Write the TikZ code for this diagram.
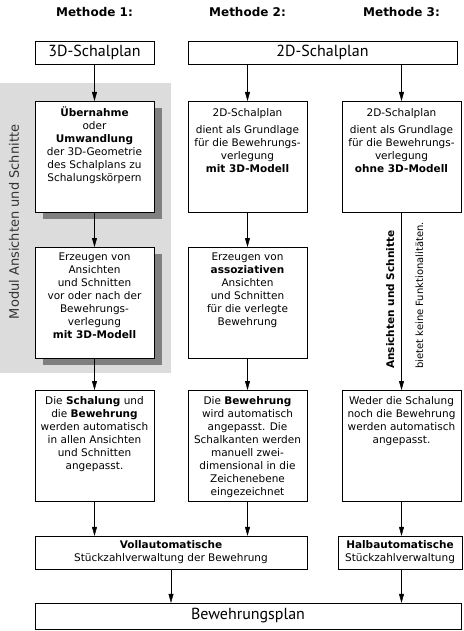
\documentclass[tikz,border=0pt]{standalone}
\usepackage{fontspec}
\setmainfont{DejaVu Sans}
\newfontfamily\headfont{PT Sans}
\usepackage{tikz}
\usetikzlibrary{arrows.meta, positioning, shadows}
\definecolor{modgray}{HTML}{DCDCDC}
\definecolor{shadgray}{HTML}{808080}
\definecolor{modtext}{HTML}{333333}

\begin{document}
\begin{tikzpicture}[x=1pt, y=-1pt,
  every node/.style={inner sep=0pt},
  titletext/.style={font=\bfseries\fontsize{12}{14}\selectfont},
  headbox/.style={draw, fill=white, minimum height=23pt, font=\headfont\fontsize{16}{18}\selectfont},
  stepbox/.style={draw, fill=white, minimum width=119pt, minimum height=111pt, anchor=north},
  shadebox/.style={stepbox, drop shadow={shadow xshift=8pt, shadow yshift=-7pt, fill=shadgray, opacity=1}},
  boxtext/.style={align=center, font=\fontsize{10.5}{13}\selectfont, anchor=north},
  sidetext/.style={rotate=90, anchor=base west, font=\fontsize{10}{12}\selectfont},
  flow/.style={-{Triangle[length=9pt, width=5pt]}}]
  \useasboundingbox (0,0) rectangle (463,631);
  % module background
  \fill[modgray] (0,83) rectangle (171,373);
  \node[rotate=90, text=modtext, font=\fontsize{13}{15}\selectfont] (modlbl) at (14,222) {Modul Ansichten und Schnitte};
  % titles
  \foreach \i/\x in {1/94.5,2/247.5,3/401.5}
    \node[titletext] (meth\i) at (\x,12) {Methode \i:};
  % plans on top
  \node[headbox, minimum width=119pt] (s3d) at (94.5,52.5) {3D-Schalplan};
  \node[headbox, minimum width=269pt] (s2d) at (322.5,52.5) {2D-Schalplan};
  % second row
  \node[shadebox] (uebern) at (94.5,101) {};
  \node[boxtext, below=6pt of uebern.north] (uebern-t) {\textbf{Übernahme}\\oder\\\textbf{Umwandlung}\\der 3D-Geometrie\\des Schalplans zu\\Schalungskörpern};
  \node[stepbox] (grund2) at (247.5,101) {};
  \node[boxtext, below=7pt of grund2.north] (grund2-t) {2D-Schalplan\\[4pt]dient als Grundlage\\für die Bewehrungs-\\verlegung\\\textbf{mit 3D-Modell}};
  \node[stepbox] (grund3) at (401.5,101) {};
  \node[boxtext, below=7pt of grund3.north] (grund3-t) {2D-Schalplan\\[4pt]dient als Grundlage\\für die Bewehrungs-\\verlegung\\\textbf{ohne 3D-Modell}};
  % third row
  \node[shadebox] (erz1) at (94.5,247) {};
  \node[boxtext, below=6pt of erz1.north] (erz1-t) {Erzeugen von\\Ansichten\\und Schnitten\\vor oder nach der\\Bewehrungs-\\verlegung\\\textbf{mit 3D-Modell}};
  \node[stepbox] (erz2) at (247.5,247) {};
  \node[boxtext, below=6pt of erz2.north] (erz2-t) {Erzeugen von\\\textbf{assoziativen}\\Ansichten\\und Schnitten\\für die verlegte\\Bewehrung};
  \coordinate (mid3) at (401.5,369);
  \node[sidetext, font=\bfseries\fontsize{10.5}{12}\selectfont] (side3a) at ([xshift=-7.5pt]mid3) {Ansichten und Schnitte};
  \node[sidetext] (side3b) at ([xshift=21.5pt]mid3) {bietet keine Funktionalitäten.};
  % fourth row
  \node[stepbox] (anp1) at (94.5,390) {};
  \node[boxtext, below=6pt of anp1.north] (anp1-t) {Die \textbf{Schalung} und\\die \textbf{Bewehrung}\\werden automatisch\\in allen Ansichten\\und Schnitten\\angepasst.};
  \node[stepbox] (anp2) at (247.5,390) {};
  \node[boxtext, below=6pt of anp2.north] (anp2-t) {Die \textbf{Bewehrung}\\wird automatisch\\angepasst. Die\\Schalkanten werden\\manuell zwei-\\dimensional in die\\Zeichenebene\\eingezeichnet};
  \node[stepbox] (anp3) at (401.5,390) {};
  \node[boxtext, below=6pt of anp3.north] (anp3-t) {Weder die Schalung\\noch die Bewehrung\\werden automatisch\\angepasst.};
  % counting
  \node[draw, fill=white, minimum width=272pt, minimum height=33pt, align=center, font=\fontsize{10.5}{13}\selectfont] (voll) at (171,552.5) {\textbf{Vollautomatische}\\Stückzahlverwaltung der Bewehrung};
  \node[draw, fill=white, minimum width=124pt, minimum height=33pt, align=center, font=\fontsize{10.5}{13}\selectfont] (halb) at (400,552.5) {\textbf{Halbautomatische}\\Stückzahlverwaltung};
  % result
  \node[headbox, minimum width=426pt, minimum height=26pt] (plan) at (248,616) {Bewehrungsplan};
  % arrows
  \draw[flow] (s3d) -- (uebern);
  \draw[flow] (s2d.south -| grund2.north) -- (grund2.north);
  \draw[flow] (s2d.south -| grund3.north) -- (grund3.north);
  \draw[flow] (uebern) -- (erz1);
  \draw[flow] (grund2) -- (erz2);
  \draw[flow] (grund3) -- (anp3);
  \draw[flow] (erz1) -- (anp1);
  \draw[flow] (erz2) -- (anp2);
  \draw[flow] (anp1.south) -- (anp1.south |- voll.north);
  \draw[flow] (anp2.south) -- (anp2.south |- voll.north);
  \draw[flow] (anp3.south) -- (anp3.south |- halb.north);
  \draw[flow] (voll.south) -- (voll.south |- plan.north);
  \draw[flow] (anp3.south |- halb.south) -- (anp3.south |- plan.north);
\end{tikzpicture}
\end{document}
